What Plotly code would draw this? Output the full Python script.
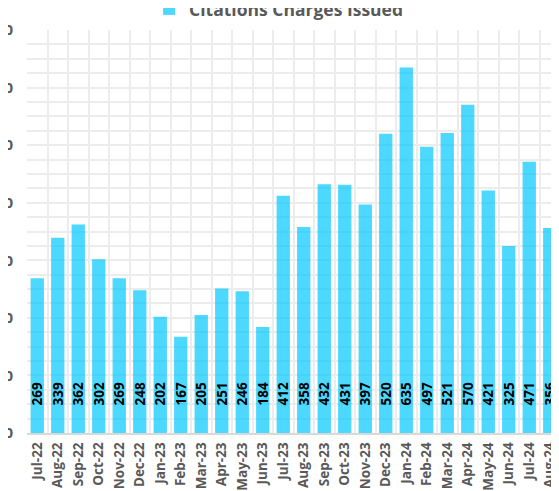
import plotly.graph_objects as go

months = ['Jul-22', 'Aug-22', 'Sep-22', 'Oct-22', 'Nov-22', 'Dec-22', 'Jan-23', 'Feb-23',
          'Mar-23', 'Apr-23', 'May-23', 'Jun-23', 'Jul-23', 'Aug-23', 'Sep-23', 'Oct-23',
          'Nov-23', 'Dec-23', 'Jan-24', 'Feb-24', 'Mar-24', 'Apr-24', 'May-24', 'Jun-24',
          'Jul-24', 'Aug-24']
citations = [269, 339, 362, 302, 269, 248, 202, 167, 205, 251, 246, 184, 412, 358, 432,
             431, 397, 520, 635, 497, 521, 570, 421, 325, 471, 356]
y_ticks = [0, 100, 200, 300, 400, 500, 600, 700]

fig = go.Figure()

# bars with value labels sitting near the base
fig.add_trace(
    go.Bar(
        x=months,
        y=citations,
        name='Citations Charges Issued',
        marker=dict(color='rgba(0,200,255,0.7)', line=dict(width=0)),
        texttemplate='\u00a0' * 7 + '%{y}',
        textposition='inside',
        insidetextanchor='start',
        textangle=-90,
        constraintext='none',
        textfont=dict(family='Open Sans', size=13.5, color='black', weight='bold'),
    ))

# page body adds an 8px offset, so the margins are reduced to match
fig.update_layout(
    width=552,
    height=483,
    margin=dict(l=19, r=0, t=22, b=58, autoexpand=False),
    plot_bgcolor='white',
    paper_bgcolor='white',
    bargap=0.35,
    showlegend=True,
    legend=dict(orientation='h', x=0.472, xanchor='center', y=1.052, yanchor='middle',
                bgcolor='rgba(0,0,0,0)',
                font=dict(family='Open Sans', size=17.5, color='#595959', weight='bold')),
    uniformtext=dict(minsize=13, mode='show'),
)

fig.update_xaxes(
    type='category',
    tickangle=-90,
    tickson='boundaries',
    ticks='',
    ticklabelstandoff=2,
    automargin=False,
    showgrid=True,
    gridcolor='#ECECEC',
    gridwidth=2,
    showline=True,
    linecolor='#D9D9D9',
    linewidth=2,
    tickfont=dict(family='Open Sans', size=13.5, color='#595959', weight='bold'),
)

fig.update_yaxes(
    range=[0, 700],
    tickvals=y_ticks,
    ticks='',
    ticklabelstandoff=13,
    showgrid=True,
    gridcolor='#ECECEC',
    gridwidth=2,
    minor=dict(dtick=25, showgrid=True, gridcolor='#ECECEC', gridwidth=2),
    zeroline=False,
    automargin=False,
    tickfont=dict(family='Open Sans', size=15, color='#595959', weight='bold'),
)

fig.write_html('out.html')
